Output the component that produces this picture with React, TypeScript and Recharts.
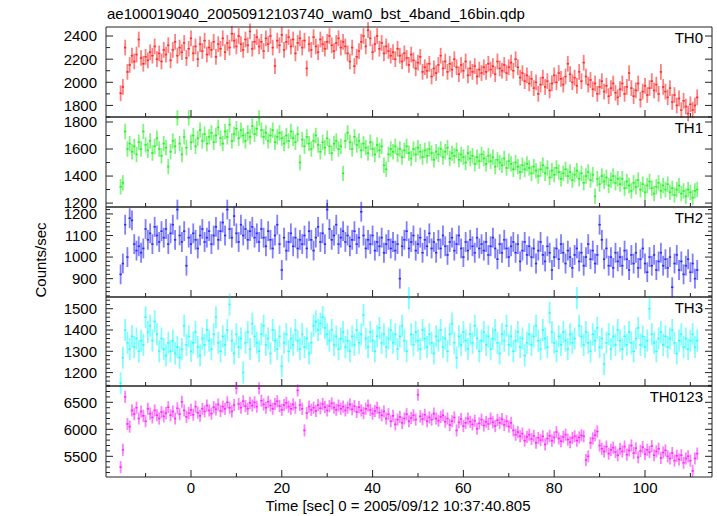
import React from "react";
import { ScatterChart, Scatter, XAxis, YAxis, ErrorBar } from "recharts";

const title = "ae100019040_20050912103740_wam0_bst_4band_16bin.qdp";
const xLabel = "Time [sec] 0 = 2005/09/12 10:37:40.805";
const yLabel = "Counts/sec";

// light curve bins: first bin centre and bin width (sec)
const tStart = -15.5;
const binSize = 0.5;

// counts/sec per 0.5 s bin, 20 bins (10 s) per row
const th0 = [
  1905, 1960, 2300, 2090, 2150, 2230, 2180, 2240, 2370, 2210, 2160, 2220, 2190, 2260, 2230, 2310, 2200, 2250, 2180, 2280,
  2240, 2320, 2190, 2280, 2350, 2230, 2300, 2260, 2340, 2210, 2290, 2380, 2250, 2310, 2200, 2330, 2270, 2360, 2240, 2300,
  2280, 2350, 2220, 2330, 2290, 2380, 2260, 2340, 2300, 2420, 2360, 2310, 2400, 2330, 2280, 2370, 2320, 2440, 2290, 2350,
  2390, 2310, 2350, 2270, 2380, 2330, 2400, 2300, 2140, 2360, 2320, 2410, 2280, 2350, 2390, 2310, 2370, 2250, 2340, 2380,
  2300, 2360, 2120, 2330, 2280, 2390, 2310, 2260, 2370, 2330, 2290, 2350, 2400, 2320, 2270, 2340, 2380, 2300, 2350, 2310,
  2250, 2180, 2300, 2140, 2220, 2270, 2350, 2400, 2310, 2450, 2380, 2260, 2330, 2400, 2290, 2340, 2250, 2310, 2270, 2230,
  2260, 2200, 2290, 2230, 2180, 2250, 2210, 2150, 2240, 2190, 2120, 2170, 2220, 2090, 2130, 2100, 2160, 2050, 2120, 2080,
  2150, 2230, 2120, 2180, 2090, 2160, 2110, 2200, 2130, 2070, 2150, 2100, 2180, 2060, 2120, 2090, 2140, 2050, 2110, 2080,
  2130, 2090, 2160, 2110, 2140, 2070, 2180, 2120, 2100, 2150, 2080, 2130, 2170, 2100, 2200, 2130, 2040, 2080, 2010, 2060,
  1990, 2030, 1950, 2000, 1900, 1980, 2040, 1960, 2010, 1930, 1990, 2060, 2000, 2080, 2030, 1980, 2050, 2160, 2070, 2000,
  2040, 1970, 2090, 2010, 2170, 2050, 1980, 2020, 1940, 1990, 1900, 1960, 2010, 1920, 1970, 1880, 1950, 1990, 1910, 1870,
  1940, 1990, 1900, 1960, 2080, 1950, 1880, 1930, 1990, 1850, 1920, 1970, 1890, 1950, 2010, 1930, 1980, 1900, 2090, 1960,
  1920, 1870, 1950, 1830, 1890, 1800, 1860, 1760, 1840, 1790, 1730, 1810, 1760, 1800, 1870,
];

const th1 = [
  1320, 1350, 1730, 1600, 1640, 1580, 1620, 1560, 1650, 1600, 1730, 1630, 1590, 1660, 1570, 1620, 1680, 1600, 1550, 1640,
  1610, 1470, 1580, 1660, 1620, 1830, 1640, 1560, 1690, 1610, 1830, 1650, 1700, 1620, 1680, 1740, 1660, 1710, 1640, 1690,
  1720, 1650, 1700, 1760, 1680, 1640, 1730, 1690, 1780, 1660, 1710, 1750, 1680, 1740, 1700, 1660, 1720, 1690, 1770, 1710,
  1750, 1830, 1740, 1690, 1720, 1660, 1700, 1740, 1650, 1690, 1720, 1680, 1640, 1700, 1660, 1730, 1680, 1650, 1710, 1500,
  1670, 1620, 1690, 1640, 1600, 1660, 1700, 1630, 1580, 1650, 1610, 1680, 1620, 1570, 1640, 1660, 1600, 1620, 1420, 1660,
  1720, 1650, 1600, 1690, 1630, 1660, 1590, 1640, 1610, 1570, 1650, 1600, 1560, 1630, 1590, 1620, 1480, 1450, 1560, 1600,
  1580, 1620, 1560, 1600, 1540, 1590, 1620, 1570, 1530, 1600, 1560, 1610, 1580, 1540, 1590, 1550, 1600, 1570, 1520, 1580,
  1560, 1600, 1540, 1580, 1610, 1530, 1570, 1550, 1590, 1520, 1560, 1540, 1500, 1570, 1530, 1550, 1490, 1540, 1510, 1560,
  1530, 1490, 1550, 1510, 1540, 1470, 1520, 1500, 1480, 1530, 1460, 1510, 1490, 1450, 1500, 1470, 1430, 1480, 1450, 1490,
  1460, 1420, 1470, 1440, 1400, 1450, 1480, 1420, 1460, 1390, 1440, 1410, 1460, 1430, 1380, 1420, 1450, 1400, 1430, 1370,
  1410, 1440, 1380, 1420, 1350, 1400, 1430, 1370, 1410, 1250, 1380, 1340, 1400, 1360, 1390, 1330, 1370, 1400, 1350, 1380,
  1340, 1380, 1310, 1360, 1330, 1290, 1350, 1320, 1370, 1300, 1340, 1280, 1330, 1360, 1310, 1270, 1320, 1350, 1290, 1330,
  1300, 1340, 1280, 1310, 1260, 1300, 1330, 1270, 1290, 1250, 1300, 1280, 1240, 1290, 1300,
];

const th2 = [
  920, 970, 1150, 1000, 1180, 1170, 1060, 1030, 1050, 1020, 1040, 1130, 1080, 1110, 1060, 1140, 1100, 1070, 1120, 1090,
  1130, 1060, 1110, 1150, 1080, 1220, 1100, 1070, 1120, 960, 1090, 1060, 1110, 1080, 1040, 1100, 1130, 1070, 1090, 1120,
  1060, 1100, 1140, 1080, 1120, 1160, 1100, 1220, 1130, 1090, 1190, 1110, 1070, 1150, 1100, 1130, 1080, 1120, 1140, 1090,
  1110, 1070, 1130, 1090, 1050, 1120, 1080, 1040, 1100, 1150, 1060, 940, 1090, 1030, 1070, 1110, 1050, 1090, 1040, 1080,
  1060, 1100, 1040, 1120, 1080, 1030, 1090, 1140, 1070, 1110, 1060, 1220, 1130, 1080, 1100, 1150, 1060, 1090, 1120, 1070,
  1100, 1050, 1080, 1120, 1060, 1090, 1210, 1100, 1040, 1080, 1060, 1100, 1030, 1070, 1050, 1090, 1020, 1060, 1080, 1040,
  1070, 1030, 1060, 900, 1050, 1080, 1120, 1040, 1070, 1100, 1030, 1060, 1090, 1020, 1080, 1050, 1110, 1040, 1070, 1020,
  1080, 1040, 1100, 1050, 1010, 1070, 1090, 1030, 1060, 1100, 1040, 1000, 1070, 1030, 1080, 1050, 1020, 1090, 1040, 1060,
  1030, 1070, 1010, 1050, 1090, 1040, 990, 1060, 1020, 1080, 1040, 1000, 1050, 1070, 1020, 1060, 980, 1030, 1070, 1010,
  1050, 1000, 1040, 970, 1030, 1070, 1010, 980, 1050, 1020, 940, 1000, 1040, 990, 1060, 1020, 970, 1030, 1000, 950,
  1010, 1040, 980, 1020, 960, 1000, 1060, 990, 1030, 970, 1010, 1150, 1080, 990, 1040, 960, 1000, 950, 1020, 980,
  1000, 960, 1030, 990, 940, 1010, 970, 1020, 950, 990, 1040, 970, 930, 1000, 960, 1010, 940, 980, 1020, 960,
  990, 950, 1000, 860, 970, 1010, 940, 980, 920, 960, 990, 930, 970, 900, 940,
];

const th3 = [
  1150, 1270, 1400, 1340, 1310, 1370, 1320, 1360, 1300, 1350, 1330, 1460, 1390, 1420, 1350, 1440, 1380, 1300, 1360, 1310,
  1280, 1340, 1300, 1350, 1290, 1320, 1270, 1310, 1420, 1330, 1370, 1300, 1340, 1390, 1320, 1280, 1360, 1330, 1400, 1350,
  1310, 1380, 1460, 1340, 1300, 1370, 1330, 1400, 1520, 1350, 1290, 1380, 1320, 1360, 1200, 1340, 1390, 1310, 1430, 1370,
  1340, 1300, 1380, 1420, 1330, 1360, 1290, 1400, 1350, 1310, 1370, 1230, 1340, 1380, 1300, 1360, 1330, 1400, 1350, 1310,
  1380, 1320, 1360, 1290, 1340, 1420, 1440, 1400, 1430, 1460, 1410, 1380, 1350, 1400, 1330, 1370, 1310, 1360, 1390, 1320,
  1350, 1300, 1370, 1330, 1400, 1340, 1380, 1470, 1360, 1320, 1390, 1350, 1300, 1370, 1410, 1340, 1380, 1320, 1360, 1400,
  1340, 1380, 1310, 1370, 1420, 1350, 1300, 1550, 1380, 1330, 1390, 1350, 1310, 1400, 1360, 1320, 1380, 1340, 1290, 1370,
  1350, 1400, 1320, 1360, 1300, 1380, 1430, 1340, 1270, 1370, 1330, 1390, 1350, 1310, 1380, 1340, 1420, 1360, 1300, 1350,
  1390, 1330, 1370, 1310, 1360, 1400, 1340, 1290, 1380, 1350, 1420, 1330, 1370, 1300, 1350, 1390, 1320, 1360, 1280, 1340,
  1380, 1330, 1370, 1420, 1350, 1310, 1400, 1360, 1320, 1480, 1390, 1340, 1300, 1370, 1330, 1390, 1350, 1310, 1380, 1340,
  1360, 1550, 1420, 1370, 1330, 1390, 1340, 1300, 1380, 1350, 1410, 1320, 1360, 1240, 1340, 1380, 1310, 1370, 1330, 1400,
  1350, 1310, 1370, 1330, 1390, 1340, 1300, 1360, 1410, 1330, 1370, 1320, 1350, 1500, 1380, 1340, 1300, 1360, 1390, 1330,
  1370, 1320, 1360, 1400, 1340, 1290, 1350, 1380, 1320, 1360, 1310, 1350, 1380, 1320, 1350,
];

const th0123 = [
  5300, 5620, 6600, 6100, 6050, 6350, 6280, 6400, 6200, 6330, 6250, 6150, 6380, 6290, 6220, 6350, 6260, 6200, 6320, 6240,
  6300, 6410, 6260, 6330, 6200, 6390, 6280, 6510, 6350, 6230, 6300, 6360, 6270, 6420, 6310, 6250, 6380, 6330, 6440, 6350,
  6290, 6410, 6370, 6460, 6340, 6420, 6380, 6500, 6400, 6330, 6450, 6760, 6470, 6400, 6520, 6430, 6380, 6490, 6440, 6500,
  6420, 6760, 6530, 6460, 6400, 6510, 6440, 6380, 6470, 6520, 6430, 6360, 6450, 6490, 6420, 6380, 6460, 6400, 6720, 6450,
  6380, 5980, 6300, 6420, 6360, 6400, 6340, 6450, 6390, 6470, 6410, 6350, 6430, 6480, 6400, 6360, 6440, 6380, 6420, 6350,
  6400, 6460, 6370, 6430, 6320, 6410, 6350, 6300, 6380, 6440, 6360, 6290, 6340, 6400, 6310, 6260, 6330, 6200, 6280, 6150,
  6250, 6090, 6180, 6230, 6120, 6200, 6280, 6150, 6210, 6260, 6180, 6640, 6240, 6190, 6270, 6150, 6220, 6180, 6290, 6200,
  6160, 6230, 6260, 6140, 6200, 6080, 6150, 6220, 5980, 6130, 6190, 6060, 6120, 6200, 6140, 6090, 6160, 6010, 6110, 6180,
  6070, 6140, 6100, 6200, 6130, 6060, 6170, 6120, 6190, 6080, 6150, 6050, 6120, 5980, 5900, 5950, 5870, 5920, 5790, 5860,
  5900, 5820, 5880, 5750, 5840, 5800, 5870, 5720, 5830, 5880, 5790, 5850, 5950, 5830, 5780, 5860, 5900, 5810, 5760, 5840,
  5870, 5790, 5850, 5890, 5870, 5430, 5500, 5750, 5830, 5890, 5960, 5700, 5640, 5590, 5680, 5550, 5620, 5660, 5580, 5520,
  5640, 5590, 5680, 5530, 5610, 5700, 5560, 5650, 5480, 5600, 5670, 5540, 5620, 5580, 5690, 5520, 5590, 5640, 5470, 5570,
  5610, 5500, 5460, 5560, 5420, 5510, 5440, 5520, 5380, 5460, 5500, 5420, 5230, 5460, 5550,
];

// 1-sigma errors (counts/sec) per band
const errors = [68, 57, 46, 52, 112];

const timeTicks = [0, 20, 40, 60, 80, 100];
const th0Ticks = [1800, 2000, 2200, 2400];
const th1Ticks = [1200, 1400, 1600, 1800];
const th2Ticks = [900, 1000, 1100, 1200];
const th3Ticks = [1200, 1300, 1400, 1500];
const th0123Ticks = [5500, 6000, 6500];

const FONT = "'Liberation Sans', Arial, Helvetica, sans-serif";
const W = 717;
const LEFT = 106;
const RIGHT = 712;
const AX = 10; // room reserved by each axis
const X_DOMAIN: [number, number] = [-18.72, 114.76];

const steps = (lo: number, hi: number, step: number) => {
  const out: number[] = [];
  for (let v = Math.ceil(lo / step) * step; v <= hi; v += step) out.push(v);
  return out;
};

const panels = [
  { name: "TH0", values: th0, err: errors[0], color: "#ff2a2a", domain: [1700, 2478], minor: 100, majors: th0Ticks, top: 27, h: 90 },
  { name: "TH1", values: th1, err: errors[1], color: "#2af02a", domain: [1171, 1837], minor: 100, majors: th1Ticks, top: 117, h: 90 },
  { name: "TH2", values: th2, err: errors[2], color: "#2a2aff", domain: [815, 1232], minor: 20, majors: th2Ticks, top: 207, h: 90 },
  { name: "TH3", values: th3, err: errors[3], color: "#2affff", domain: [1137, 1555], minor: 20, majors: th3Ticks, top: 297, h: 89 },
  { name: "TH0123", values: th0123, err: errors[4], color: "#ff2aff", domain: [5117, 6802], minor: 100, majors: th0123Ticks, top: 386, h: 91 },
];

const xMinor = steps(-10, 110, 10);

const XTick = (p: any) => {
  const { x, y, payload, side, labels } = p;
  const major = timeTicks.includes(payload.value);
  const len = major ? 7 : 4;
  const dir = side === "bottom" ? -1 : 1;
  return (
    <g>
      <line x1={x} y1={y} x2={x} y2={y + dir * len} stroke="#222" strokeWidth={1} />
      {labels && major && (
        <text x={x} y={y + 16} textAnchor="middle" fontSize={15} fontFamily={FONT} fill="#000">
          {payload.value}
        </text>
      )}
    </g>
  );
};

const YTick = (p: any) => {
  const { x, y, payload, side, majors } = p;
  const major = majors.includes(payload.value);
  const len = major ? 7 : 4;
  const dir = side === "left" ? 1 : -1;
  return (
    <g>
      <line x1={x} y1={y} x2={x + dir * len} y2={y} stroke="#222" strokeWidth={1} />
      {side === "left" && major && (
        <text x={x - 9} y={y} dy="0.36em" textAnchor="end" fontSize={15} fontFamily={FONT} fill="#000">
          {payload.value}
        </text>
      )}
    </g>
  );
};

const Panel = ({ panel, last }: { panel: (typeof panels)[number]; last: boolean }) => {
  const data = panel.values.map((v, i) => ({
    t: tStart + i * binSize,
    v,
    ey: panel.err,
    ex: binSize / 2,
  }));
  const yTicks = steps(panel.domain[0], panel.domain[1], panel.minor);
  const bottomPad = last ? 40 : 0;
  const cw = W + AX;
  return (
    <div style={{ position: "absolute", left: 0, top: panel.top - AX }}>
      <ScatterChart
        width={cw}
        height={panel.h + 2 * AX + bottomPad}
        margin={{ top: 0, right: cw - RIGHT - AX, bottom: bottomPad, left: LEFT - AX }}
      >
        <XAxis
          xAxisId="b"
          dataKey="t"
          type="number"
          domain={X_DOMAIN}
          allowDataOverflow
          ticks={xMinor}
          height={AX}
          tickSize={0}
          tickMargin={0}
          tickLine={false}
          axisLine={{ stroke: "#222" }}
          tick={(p: any) => <XTick {...p} side="bottom" labels={last} />}
          interval={0}
        />
        <XAxis
          xAxisId="t"
          orientation="top"
          type="number"
          domain={X_DOMAIN}
          allowDataOverflow
          ticks={xMinor}
          height={AX}
          tickSize={0}
          tickMargin={0}
          tickLine={false}
          axisLine={{ stroke: "#222" }}
          tick={(p: any) => <XTick {...p} side="top" labels={false} />}
          interval={0}
        />
        <YAxis
          yAxisId="l"
          dataKey="v"
          type="number"
          domain={panel.domain}
          allowDataOverflow
          ticks={yTicks}
          width={AX}
          tickSize={0}
          tickMargin={0}
          tickLine={false}
          axisLine={{ stroke: "#222" }}
          tick={(p: any) => <YTick {...p} side="left" majors={panel.majors} />}
          interval={0}
        />
        <YAxis
          yAxisId="r"
          orientation="right"
          type="number"
          domain={panel.domain}
          allowDataOverflow
          ticks={yTicks}
          width={AX}
          tickSize={0}
          tickMargin={0}
          tickLine={false}
          axisLine={{ stroke: "#222" }}
          tick={(p: any) => <YTick {...p} side="right" majors={panel.majors} />}
          interval={0}
        />
        <Scatter
          data={data}
          xAxisId="b"
          yAxisId="l"
          isAnimationActive={false}
          shape={() => <g />}
        >
          <ErrorBar dataKey="ey" direction="y" width={0} stroke={panel.color} strokeWidth={1.8} strokeOpacity={0.6} isAnimationActive={false} />
          <ErrorBar dataKey="ex" direction="x" width={0} stroke={panel.color} strokeWidth={1.6} isAnimationActive={false} />
        </Scatter>
      </ScatterChart>
    </div>
  );
};

export default function App() {
  return (
    <div style={{ position: "relative", width: W, height: 516, background: "#fff", overflow: "hidden" }}>
      <style>{"body{margin:0}"}</style>
      {panels.map((p, i) => (
        <Panel key={p.name} panel={p} last={i === panels.length - 1} />
      ))}
      <svg width={W} height={516} style={{ position: "absolute", left: 0, top: 0, pointerEvents: "none" }}>
        <text x={107} y={19} fontSize={15} fontFamily={FONT} fill="#000">
          {title}
        </text>
        {panels.map((p) => (
          <text key={p.name} x={703} y={p.top + 16} textAnchor="end" fontSize={15} fontFamily={FONT} fill="#000">
            {p.name}
          </text>
        ))}
        <text x={398} y={511} textAnchor="middle" fontSize={15} fontFamily={FONT} fill="#000">
          {xLabel}
        </text>
        <text x={46} y={260} textAnchor="middle" transform="rotate(-90 46 260)" fontSize={15} fontFamily={FONT} fill="#000">
          {yLabel}
        </text>
      </svg>
    </div>
  );
}
